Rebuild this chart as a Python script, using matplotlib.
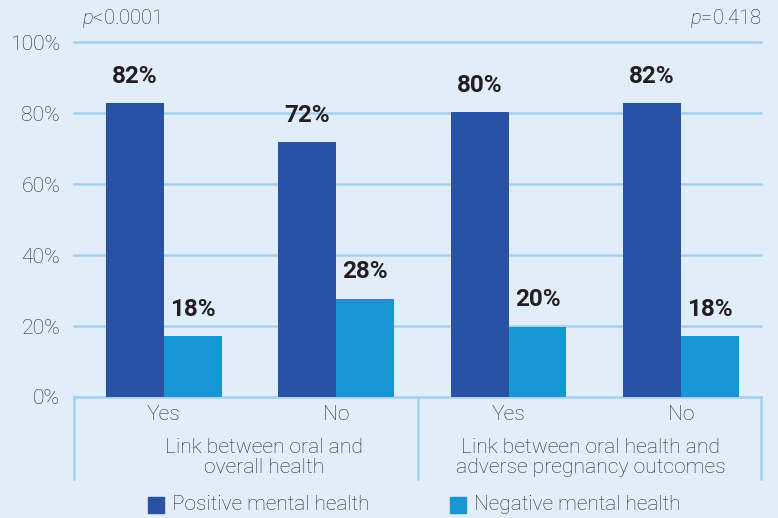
import matplotlib
matplotlib.use("Agg")
import matplotlib.pyplot as plt
from matplotlib.patches import Rectangle
from matplotlib.lines import Line2D
import numpy as np

categories = ["Yes", "No", "Yes", "No"]
group_labels = ["Link between oral and\noverall health",
                "Link between oral health and\nadverse pregnancy outcomes"]
p_values = ["<0.0001", "=0.418"]
positive = [82.8, 71.8, 80.2, 82.8]
negative = [17.2, 27.7, 19.8, 17.2]
positive_labels = ["82%", "72%", "80%", "82%"]
negative_labels = ["18%", "28%", "20%", "18%"]
series_names = ["Positive mental health", "Negative mental health"]
yticks = [0, 20, 40, 60, 80, 100]

BG = "#E1EEF9"
DARK = "#2A52A4"
LIGHT = "#1897D5"
GRID = "#A6D0F0"
TXT = "#2B2B2B"
plt.rcParams['font.family'] = ['Roboto', 'DejaVu Sans']
plt.rcParams['mathtext.fontset'] = 'custom'
plt.rcParams['mathtext.it'] = 'Roboto:italic:light'
plt.rcParams['mathtext.rm'] = 'Roboto:light'
FW = "light"
FS = 15.2

fig = plt.figure(figsize=(7.78, 5.18), dpi=100, facecolor=BG)
ax = fig.add_axes([74/778, 1-397/518, (761-74)/778, (397-42)/518])
ax.set_facecolor(BG)
x = np.arange(len(categories))
w = 0.336
ax.set_xlim(-0.522, 3.465)
ax.set_ylim(0, 100)
for y in yticks:
    ax.axhline(y, color=GRID, lw=1.8, zorder=0, clip_on=False)
ax.bar(x - w/2, positive, w, color=DARK, zorder=2)
ax.bar(x + w/2, negative, w, color=LIGHT, zorder=2)
for xi, v, l in zip(x, positive, positive_labels):
    ax.text(xi - w/2, v + 4.3, l, ha="center", va="bottom", fontsize=17.5,
            fontweight="bold", color="#231F20")
for xi, v, l in zip(x, negative, negative_labels):
    ax.text(xi + w/2, v + 4.3, l, ha="center", va="bottom", fontsize=17.5,
            fontweight="bold", color="#231F20")
for s in ax.spines.values():
    s.set_visible(False)
ax.set_yticks(yticks)
ax.set_yticklabels([f"{t}%" for t in yticks], fontsize=FS, color=TXT, fontweight=FW)
ax.tick_params(axis="y", length=0, pad=10)
ax.set_xticks([])

# category labels and separators
trans = ax.get_xaxis_transform()
for xi, c in zip(x, categories):
    ax.text(xi, -0.05, c, transform=trans, ha="center", va="center",
            fontsize=FS, color=TXT, fontweight=FW)
gx = [0.58, 2.478]
for g, lab in zip(gx, group_labels):
    ax.text(g, -0.171, lab, transform=trans, ha="center", va="center",
            fontsize=FS, color=TXT, fontweight=FW, linespacing=1.1)
for sx in [-0.522, 1.474, 3.465]:
    ax.add_line(Line2D([sx, sx], [0, -0.232], transform=trans, color=GRID,
                       lw=1.8, clip_on=False))

# p-values
ax.text(0.012, 1.065, r"$p$" + p_values[0], transform=ax.transAxes, fontsize=14.5,
        color=TXT, fontweight=FW, ha="left", va="center")
ax.text(1.0, 1.065, r"$p$" + p_values[1], transform=ax.transAxes, fontsize=14.5,
        color=TXT, fontweight=FW, ha="right", va="center")

# legend
for sq_x, txt_x, col, name in [(148, 172, DARK, series_names[0]),
                               (450, 474, LIGHT, series_names[1])]:
    fig.patches.append(Rectangle((sq_x/778, 1-513/518), 16/778, 16/518,
                                 transform=fig.transFigure, color=col))
    fig.text(txt_x/778, 1-505/518, name, fontsize=15, color=TXT,
             fontweight=FW, ha="left", va="center")

fig.savefig("out.png", dpi=100, facecolor=BG)
